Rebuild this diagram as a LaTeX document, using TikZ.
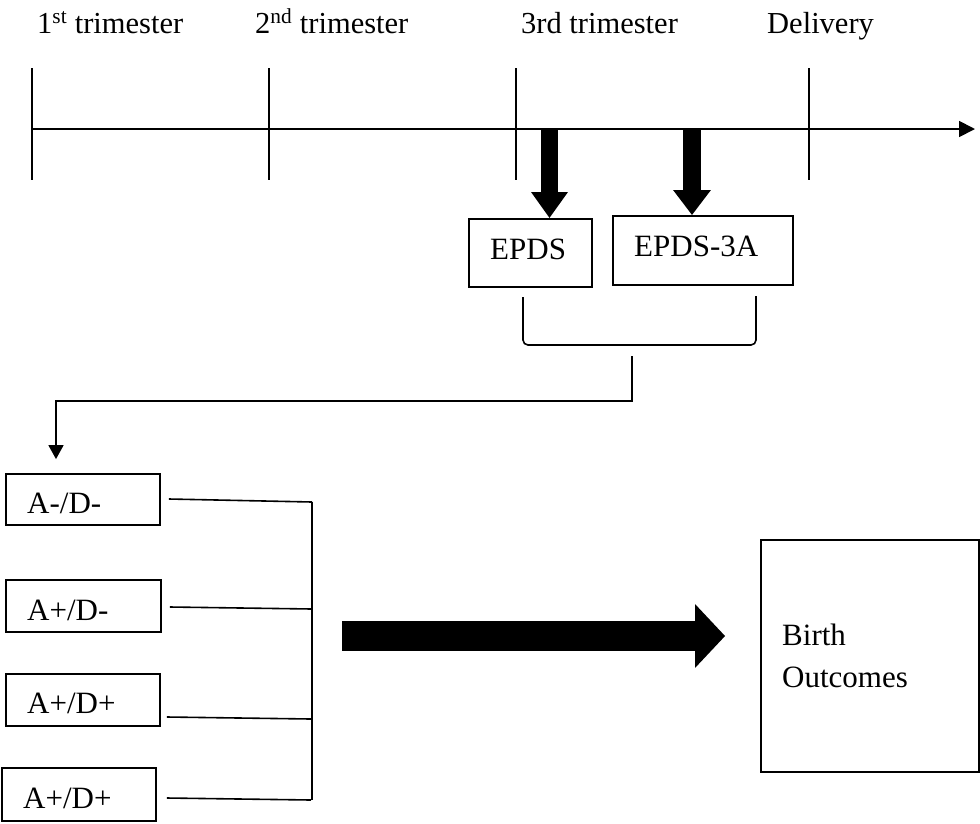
\documentclass[tikz,border=0pt]{standalone}
\usepackage{fontspec}
\setmainfont{Liberation Serif}
\usetikzlibrary{arrows.meta}
\begin{document}
\begin{tikzpicture}[x=1pt,y=-1pt,
  txt/.style={anchor=base west, inner sep=0pt, font=\fontsize{31}{36}\selectfont},
  ttl/.style={anchor=base west, inner sep=0pt, font=\fontsize{30.5}{36}\selectfont},
  box/.style={draw, line width=1.8pt, inner sep=0pt},
  thin/.style={line width=1.6pt},
  tick/.style={line width=1.4pt},
  bigdown/.style={line width=17pt, -{Triangle[length=26pt,width=35pt]}},
  smallarr/.style={line width=1.6pt, -{Triangle[length=14pt,width=15pt]}}
]
\useasboundingbox (0,0) rectangle (980,823);

% titles
\node[ttl] (t1) at (37,33) {1\textsuperscript{st} trimester};
\node[ttl] (t2) at (255,33) {2\textsuperscript{nd} trimester};
\node[ttl] (t3) at (521,33) {3rd trimester};
\node[ttl] (t4) at (767,33) {Delivery};

% timeline
\coordinate (tl0) at (31,129);
\coordinate (tl1) at (975,129);
\draw[line width=1.8pt, -{Triangle[length=16pt,width=16pt]}] (tl0) -- (tl1);
\foreach \x/\n in {32/a,269/b,516/c,809/d}{
  \coordinate (tk\n1) at (\x,68);
  \coordinate (tk\n2) at (\x,180);
  \draw[tick] (tk\n1) -- (tk\n2);
}

% boxes EPDS
\node[box, minimum width=123pt, minimum height=68pt] (epds) at (530.5,253) {};
\node[txt] (epdst) at (490,259) {EPDS};
\node[box, minimum width=180pt, minimum height=69pt] (epdsa) at (703,250.5) {};
\node[txt] (epdsat) at (634,256) {EPDS-3A};

% thick down arrows
\coordinate (a1s) at (549.5,129);
\coordinate (a2s) at (692,129);
\draw[bigdown] (a1s) -- (a1s |- epds.north);
\draw[line width=18pt, -{Triangle[length=25pt,width=36pt]}] (a2s) -- (a2s |- epdsa.north);

% bracket
\coordinate (brL) at (523,297);
\coordinate (brLb) at (523,345);
\coordinate (brRb) at (756,345);
\coordinate (brR) at (756,296);
\draw[thin, rounded corners=5pt] (brL) -- (brLb) -- (brRb) -- (brR);

% left boxes
\node[box, minimum width=154pt, minimum height=51pt] (b1) at (83,499.5) {};
\node[txt] (b1t) at (27,513) {A-/D-};
\node[box, minimum width=155pt, minimum height=52pt] (b2) at (83.5,606) {};
\node[txt] (b2t) at (27,620) {A+/D-};
\node[box, minimum width=154pt, minimum height=52pt] (b3) at (83,700) {};
\node[txt] (b3t) at (27,713) {A+/D+};
\node[box, minimum width=154pt, minimum height=53pt] (b4) at (79,794.5) {};
\node[txt] (b4t) at (23,808) {A+/D+};

% connector bracket -> first box
\coordinate (cm0) at (632,356);
\coordinate (cm1) at (632,401);
\coordinate (cm2) at (56,401);
\draw[smallarr] (cm0) -- (cm1) -- (cm2) -- ([yshift=14pt]cm2 |- b1.north);

% connectors from boxes
\coordinate (c1e) at (312,502);
\coordinate (c2e) at (312,609);
\coordinate (c3e) at (311,719);
\coordinate (c4e) at (311,800);
\draw[thin] ([xshift=8pt]b1.east |- 0,499) -- (c1e);
\draw[thin] ([xshift=8pt]b2.east |- 0,607) -- (c2e);
\draw[thin] ([xshift=6pt]b3.east |- 0,717) -- (c3e);
\draw[thin] ([xshift=10pt]b4.east |- 0,798) -- (c4e);
\draw[thin] (c1e) -- (312,800);

% outcome box
\node[box, minimum width=218pt, minimum height=232pt] (out) at (870,656) {};
\node[txt] (outt1) at (782,645) {Birth};
\node[txt] (outt2) at (782,687) {Outcomes};

% big arrow
\coordinate (bg0) at (342,636);
\draw[line width=30pt, -{Triangle[length=30pt,width=62pt]}] (bg0) -- ([xshift=-35pt]out.west |- bg0);
\end{tikzpicture}
\end{document}
